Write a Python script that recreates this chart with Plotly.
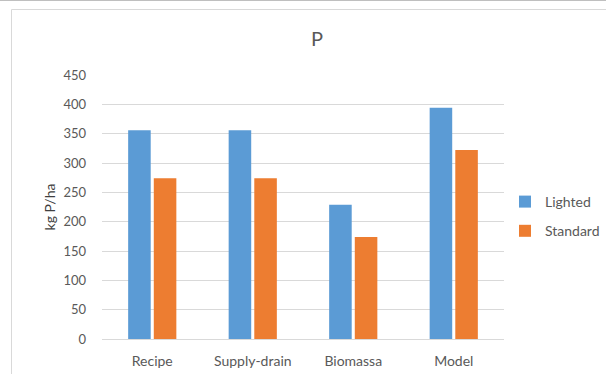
import plotly.graph_objects as go

# Phosphorus supply per method, kg P/ha
categories = ["Recipe", "Supply-drain", "Biomassa", "Model"]
lighted = [356, 356, 229, 394]
standard = [274, 274, 174, 322]
y_ticks = [0, 50, 100, 150, 200, 250, 300, 350, 400, 450]

W, H = 606, 374
L, R, T, B = 102, 102, 75, 35


def px_x(px):
    return (px - L) / (W - L - R)


def px_y(py):
    return (H - B - py) / (H - T - B)


fig = go.Figure()
fig.add_trace(go.Bar(name="Lighted", x=categories, y=lighted, legendgroup="lighted",
                     marker=dict(color="#5B9BD5", line=dict(width=0))))
fig.add_trace(go.Bar(name="Standard", x=categories, y=standard, legendgroup="standard",
                     marker=dict(color="#ED7D31", line=dict(width=0))))

font_family = "Lato, 'Open Sans', sans-serif"

fig.update_layout(
    width=W, height=H,
    margin=dict(l=L, r=R, t=T, b=B, pad=0, autoexpand=False),
    paper_bgcolor="white", plot_bgcolor="white",
    barmode="group", bargap=0.49, bargroupgap=0.12,
    font=dict(family=font_family, color="#595959", size=13),
    title=dict(text="P", x=317 / W, xref="container", xanchor="center",
               y=1 - 39 / H, yref="container", yanchor="middle",
               font=dict(size=20, color="#595959", family=font_family)),
    showlegend=True,
    legend=dict(x=505 / W, xanchor="left", y=1 - 186 / H, yanchor="top",
                xref="container", yref="container",
                font=dict(size=14, color="#595959"),
                bgcolor="rgba(0,0,0,0)", itemwidth=30, tracegroupgap=8),
    xaxis=dict(showgrid=False, showline=True, linecolor="#D9D9D9", linewidth=1,
               ticks="", ticklabelstandoff=9, automargin=False,
               tickfont=dict(size=14, color="#595959")),
    yaxis=dict(range=[0, 450], tickvals=y_ticks, showgrid=True,
               gridcolor="#D9D9D9", gridwidth=1, zeroline=False,
               showline=False, ticks="", ticklabelstandoff=15, automargin=False,
               tickfont=dict(size=13, color="#595959"),
               title=dict(text="kg P/ha", standoff=4,
                          font=dict(size=14, color="#404040"))),
    shapes=[
        # outer page edge and chart frame
        dict(type="line", xref="paper", yref="paper",
             x0=px_x(0), x1=px_x(W), y0=px_y(0.5), y1=px_y(0.5),
             line=dict(color="#BFBFBF", width=1)),
        dict(type="line", xref="paper", yref="paper",
             x0=px_x(11.5), x1=px_x(W), y0=px_y(9.5), y1=px_y(9.5),
             line=dict(color="#D9D9D9", width=1)),
        dict(type="line", xref="paper", yref="paper",
             x0=px_x(11.5), x1=px_x(11.5), y0=px_y(9.5), y1=px_y(H),
             line=dict(color="#D9D9D9", width=1)),
    ],
)

fig.write_html("out.html")
